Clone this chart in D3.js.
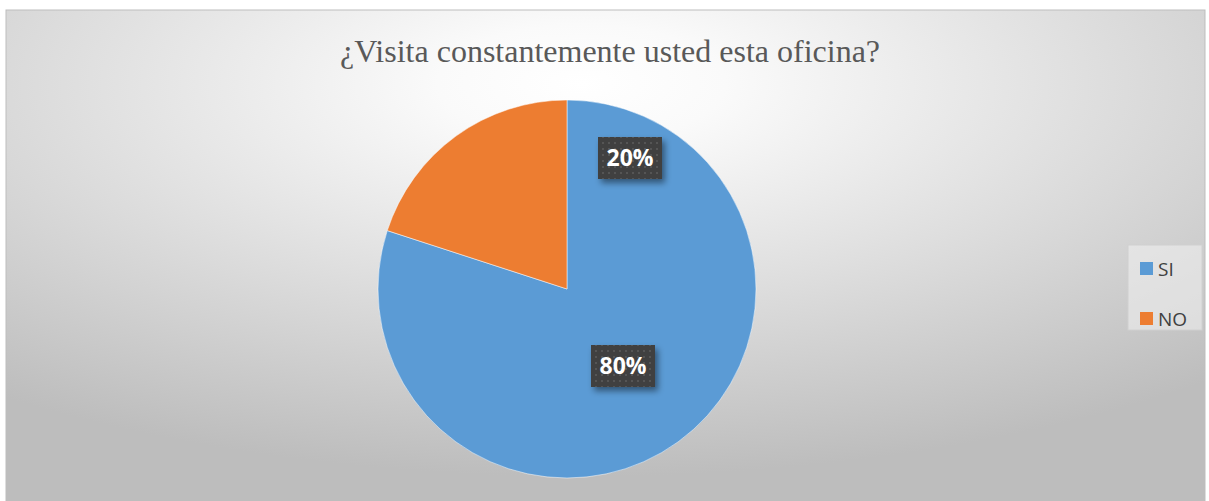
<!DOCTYPE html>
<html>
<head>
<meta charset="utf-8">
<script src="https://cdn.jsdelivr.net/npm/d3@7"></script>
<style>
body{margin:0;background:#fff;}
</style>
</head>
<body>
<svg id="chart" width="1209" height="501"></svg>
<script>
// data -------------------------------------------------
var categories = ["SI", "NO"];
var values = [80, 20];
var colors = ["#5b9bd5", "#ed7d31"];
var title = "¿Visita constantemente usted esta oficina?";

var svg = d3.select("#chart");
var defs = svg.append("defs");

// background gradient, light in the middle and grey at the edges
var bg = defs.append("radialGradient").attr("id", "bg")
  .attr("cx", "0.48").attr("cy", "0.15").attr("r", "0.8");
bg.append("stop").attr("offset", "0%").attr("stop-color", "#ffffff");
bg.append("stop").attr("offset", "15%").attr("stop-color", "#fafafa");
bg.append("stop").attr("offset", "100%").attr("stop-color", "#bdbdbd");

// dotted pattern for the label boxes
var pat = defs.append("pattern").attr("id", "dots")
  .attr("width", 6).attr("height", 6).attr("patternUnits", "userSpaceOnUse");
pat.append("rect").attr("width", 6).attr("height", 6).attr("fill", "#404040");
pat.append("rect").attr("x", 2).attr("y", 2).attr("width", 2).attr("height", 2).attr("fill", "#555555");

var shadow = defs.append("filter").attr("id", "shadow")
  .attr("x", "-20%").attr("y", "-20%").attr("width", "150%").attr("height", "160%");
shadow.append("feDropShadow").attr("dx", 3).attr("dy", 4).attr("stdDeviation", 3)
  .attr("flood-color", "#000").attr("flood-opacity", 0.45);

svg.append("rect")
  .attr("x", 6).attr("y", 10).attr("width", 1199).attr("height", 491)
  .attr("fill", "url(#bg)")
  .attr("stroke", "#bdbdbd").attr("stroke-width", 1);

svg.append("text")
  .attr("x", 610).attr("y", 62)
  .attr("text-anchor", "middle")
  .style("font-family", "'Liberation Serif', 'Times New Roman', serif")
  .style("font-size", "32px")
  .style("fill", "#595959")
  .text(title);

//pie ----------------------------------------------------
var cx = 567, cy = 289, radius = 189;
var pie = d3.pie().sort(null).value(function(d){ return d; });
var arc = d3.arc().innerRadius(0).outerRadius(radius);
var arcs = pie(values);

var g = svg.append("g").attr("transform", "translate(" + cx + "," + cy + ")");
g.selectAll("path")
  .data(arcs)
  .enter()
  .append("path")
  .attr("d", arc)
  .style("fill", function(d, i){ return colors[i]; })
  .style("stroke", "#ffffff")
  .style("stroke-width", 0.5);

// label boxes (placed inside the slices like the original)
var labels = g.selectAll("g.lbl")
  .data(arcs)
  .enter()
  .append("g")
  .attr("class", "lbl")
  .attr("transform", function(d, i){
    var c = i == 0 ? [56, 77] : [63, -131];
    return "translate(" + c[0] + "," + c[1] + ")";
  });
labels.append("rect")
  .attr("x", -32).attr("y", -21).attr("width", 64).attr("height", 42)
  .attr("fill", "url(#dots)")
  .attr("filter", "url(#shadow)");
labels.append("text")
  .attr("text-anchor", "middle")
  .attr("dy", "0.36em")
  .style("font-family", "'Open Sans', Calibri, sans-serif")
  .style("font-weight", "bold")
  .style("font-size", "23px")
  .style("fill", "#ffffff")
  .text(function(d){ return d.data + "%"; });

//legend --------------------------------------------------
var legend = svg.append("g").attr("transform", "translate(1128,245)");
legend.append("rect")
  .attr("width", 74).attr("height", 85)
  .attr("fill", "#f2f2f2").attr("fill-opacity", 0.55)
  .attr("stroke", "#d0d0d0");
var items = legend.selectAll("g.item")
  .data(categories)
  .enter()
  .append("g")
  .attr("class", "item")
  .attr("transform", function(d, i){ return "translate(12," + (17 + i * 50) + ")"; });
items.append("rect")
  .attr("width", 13).attr("height", 13)
  .attr("fill", function(d, i){ return colors[i]; });
items.append("text")
  .attr("x", 18).attr("y", 7).attr("dy", "0.36em")
  .style("font-family", "'Open Sans', Calibri, sans-serif")
  .style("font-size", "19px")
  .style("fill", "#404040")
  .text(function(d){ return d; });
</script>
</body>
</html>
